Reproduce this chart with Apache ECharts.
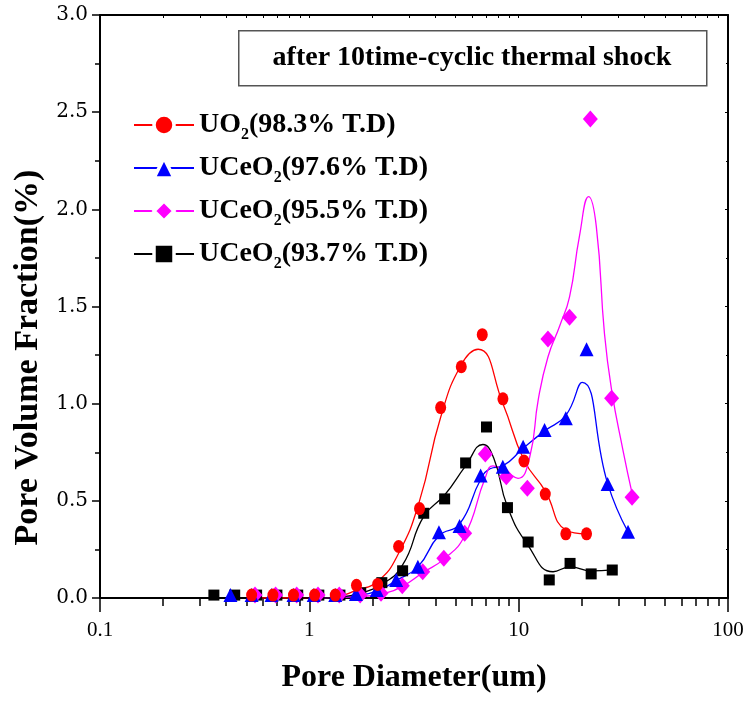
<!DOCTYPE html>
<html>
<head>
<meta charset="utf-8">
<script src="https://cdn.jsdelivr.net/npm/echarts@6/dist/echarts.min.js"></script>
<style>
  html, body { margin: 0; padding: 0; background: #fff; }
  #chart { width: 747px; height: 702px; }
</style>
</head>
<body>
<div id="chart"></div>
<script>
// measured points (pore diameter um / pore volume fraction %)
const uoX = [0.53, 0.67, 0.84, 1.06, 1.33, 1.68, 2.12, 2.67, 3.36, 4.24, 5.32, 6.70, 8.41, 10.6, 13.4, 16.8, 21.1]
const uoY = [0.015, 0.015, 0.015, 0.015, 0.015, 0.065, 0.07, 0.265, 0.46, 0.98, 1.19, 1.355, 1.025, 0.705, 0.535, 0.33, 0.33]

const ce976X = [0.42, 0.53, 0.66, 0.84, 1.05, 1.33, 1.67, 2.10, 2.60, 3.30, 4.16, 5.22, 6.58, 8.40, 10.5, 13.3, 16.8, 21.1, 26.6, 33.3]
const ce976Y = [0.015, 0.015, 0.015, 0.015, 0.015, 0.015, 0.02, 0.041, 0.093, 0.161, 0.338, 0.37, 0.63, 0.676, 0.778, 0.865, 0.925, 1.28, 0.587, 0.341]

const ce955X = [0.55, 0.69, 0.87, 1.10, 1.39, 1.75, 2.20, 2.78, 3.48, 4.39, 5.52, 6.93, 8.73, 11.0, 13.8, 17.5, 22.0, 27.8, 34.8]
const ce955Y = [0.015, 0.015, 0.015, 0.015, 0.015, 0.015, 0.024, 0.063, 0.135, 0.204, 0.333, 0.741, 0.624, 0.565, 1.333, 1.445, 2.465, 1.028, 0.518]

const ce937X = [0.35, 0.44, 0.56, 0.70, 0.88, 1.11, 1.40, 1.76, 2.22, 2.79, 3.52, 4.43, 5.58, 7.02, 8.84, 11.1, 14.0, 17.6, 22.2, 28.0]
const ce937Y = [0.015, 0.015, 0.015, 0.015, 0.015, 0.015, 0.015, 0.027, 0.079, 0.14, 0.436, 0.51, 0.695, 0.88, 0.465, 0.288, 0.093, 0.178, 0.124, 0.144]

// fitted curves
const uoFitX = [0.53, 1.06, 1.33, 1.68, 2.12, 2.67, 3.36, 4.24, 5.32, 6.4, 8.41, 10.6, 13.4, 16.8, 21.1]
const uoFitY = [0, 0, 0.005, 0.04, 0.085, 0.23, 0.5, 0.93, 1.2, 1.28, 1.0, 0.71, 0.55, 0.35, 0.33]

const ce976FitX = [1.05, 1.33, 1.67, 2.10, 2.60, 3.30, 4.16, 5.22, 6.58, 7.3, 8.40, 10.5, 13.3, 16.8, 20.1, 26.6, 33.3]
const ce976FitY = [0, 0.003, 0.012, 0.035, 0.09, 0.16, 0.32, 0.38, 0.61, 0.665, 0.68, 0.77, 0.86, 0.94, 1.11, 0.59, 0.34]

const ce955FitX = [1.10, 1.39, 1.75, 2.20, 2.78, 3.48, 4.39, 5.52, 6.93, 7.53, 8.73, 9.93, 11.3, 12.4, 13.8, 15.7, 17.5, 19.5, 21.6, 23.5, 25.7, 27.8, 31.5, 34.8]
const ce955FitY = [0, 0.003, 0.008, 0.02, 0.06, 0.13, 0.2, 0.32, 0.62, 0.68, 0.65, 0.616, 0.727, 1.02, 1.24, 1.4, 1.55, 1.86, 2.065, 1.91, 1.36, 1.07, 0.76, 0.54]

const ce937FitX = [0.9, 1.11, 1.40, 1.76, 2.22, 2.79, 3.52, 4.43, 5.58, 6.75, 7.6, 8.84, 11.1, 14.6, 17.6, 22.2, 28.0]
const ce937FitY = [0, 0, 0.005, 0.025, 0.07, 0.17, 0.42, 0.53, 0.68, 0.79, 0.72, 0.47, 0.27, 0.135, 0.16, 0.14, 0.145]

// axis ticks
const xMinorTicks = [0.2, 0.3, 0.4, 0.5, 0.6, 0.7, 0.8, 0.9, 2, 3, 4, 5, 6, 7, 8, 9, 20, 30, 40, 50, 60, 70, 80, 90]
const xAllTicks = [0.1, 0.2, 0.3, 0.4, 0.5, 0.6, 0.7, 0.8, 0.9, 1, 2, 3, 4, 5, 6, 7, 8, 9, 10, 20, 30, 40, 50, 60, 70, 80, 90, 100]

const serif = "Liberation Serif"

function pairs(xs, ys) {
  return xs.map(function (x, i) { return [x, ys[i]] })
}

const groups = [
  { name: "UO2(98.3% T.D)", color: "#ff0000", symbol: "circle", size: [11, 13], x: uoX, y: uoY, fx: uoFitX, fy: uoFitY, z: 6 },
  { name: "UCeO2(97.6% T.D)", color: "#0000ff", symbol: "triangle", size: [14, 14], x: ce976X, y: ce976Y, fx: ce976FitX, fy: ce976FitY, z: 5 },
  { name: "UCeO2(95.5% T.D)", color: "#ff00ff", symbol: "diamond", size: [15, 17], x: ce955X, y: ce955Y, fx: ce955FitX, fy: ce955FitY, z: 4 },
  { name: "UCeO2(93.7% T.D)", color: "#000000", symbol: "rect", size: [11, 11], x: ce937X, y: ce937Y, fx: ce937FitX, fy: ce937FitY, z: 3 }
]

const series = []
// curves first so the legend takes its icon from them
groups.forEach(function (g) {
  series.push({
    type: "line",
    name: g.name,
    data: pairs(g.fx, g.fy),
    smooth: 0.5,
    showSymbol: false,
    symbol: g.symbol,
    lineStyle: { color: g.color, width: 1.3 },
    itemStyle: { color: g.color },
    z: 2,
    silent: true
  })
})
groups.forEach(function (g) {
  series.push({
    type: "scatter",
    name: g.name,
    data: pairs(g.x, g.y),
    symbol: g.symbol,
    symbolSize: g.size,
    itemStyle: { color: g.color, opacity: 1 },
    z: g.z,
    silent: true
  })
})

const chart = echarts.init(document.getElementById("chart"))
chart.setOption({
  animation: false,
  backgroundColor: "#fff",
  grid: { left: 100, right: 19, top: 15, bottom: 104 },
  legend: {
    data: groups.map(function (g) { return g.name }),
    orient: "vertical",
    left: 128,
    top: 106,
    itemWidth: 60,
    itemHeight: 25,
    itemGap: 11,
    selectedMode: false,
    itemStyle: { borderColor: "#fff", borderWidth: 3.5 },
    formatter: function (n) {
      return "{m|" + n.replace("O2", "O}{s|2}{m|") + "}"
    },
    textStyle: {
      rich: {
        m: { fontFamily: serif, fontWeight: "bold", fontSize: 28, lineHeight: 36, color: "#000" },
        s: { fontFamily: serif, fontWeight: "bold", fontSize: 16, lineHeight: 16, verticalAlign: "bottom", color: "#000" }
      }
    }
  },
  graphic: [
    {
      type: "rect",
      left: 238,
      top: 30,
      shape: { width: 468, height: 55 },
      style: { fill: "#fff", stroke: "#555", lineWidth: 1.5 },
      z: 10
    },
    {
      type: "text",
      x: 472,
      y: 58,
      style: {
        text: "after 10time-cyclic thermal shock",
        font: "bold 28px \"Liberation Serif\"",
        fill: "#000",
        align: "center",
        verticalAlign: "middle"
      },
      z: 11
    }
  ],
  xAxis: [
    {
      type: "log",
      logBase: 10,
      min: 0.1,
      max: 100,
      position: "bottom",
      axisLine: { lineStyle: { color: "#000", width: 2 } },
      axisTick: { length: 14, lineStyle: { color: "#000", width: 1.5 } },
      axisLabel: { margin: 22, fontFamily: serif, fontSize: 21, color: "#000" },
      splitLine: { show: false },
      name: "Pore Diameter(um)",
      nameLocation: "middle",
      nameGap: 64,
      nameTextStyle: { fontFamily: serif, fontWeight: "bold", fontSize: 32, color: "#000" }
    },
    {
      type: "log",
      logBase: 10,
      min: 0.1,
      max: 100,
      position: "bottom",
      axisLine: { show: false },
      axisTick: { length: 8, customValues: xMinorTicks, lineStyle: { color: "#000", width: 1.5 } },
      axisLabel: { show: false },
      splitLine: { show: false }
    },
    {
      type: "log",
      logBase: 10,
      min: 0.1,
      max: 100,
      position: "top",
      axisLine: { lineStyle: { color: "#000", width: 2 } },
      axisTick: { inside: true, length: 3, customValues: xAllTicks, lineStyle: { color: "#000" } },
      axisLabel: { show: false },
      splitLine: { show: false }
    }
  ],
  yAxis: [
    {
      type: "value",
      min: 0,
      max: 3,
      interval: 0.5,
      position: "left",
      axisLine: { lineStyle: { color: "#000", width: 2 } },
      axisTick: { length: 8, lineStyle: { color: "#000", width: 1.5 } },
      minorTick: { show: true, splitNumber: 2, length: 5, lineStyle: { color: "#000", width: 1.5 } },
      axisLabel: {
        margin: 12,
        fontFamily: "DejaVu Serif",
        fontSize: 20,
        color: "#000",
        formatter: function (v) { return v.toFixed(1) }
      },
      splitLine: { show: false },
      name: "Pore Volume Fraction(%)",
      nameLocation: "middle",
      nameRotate: 90,
      nameGap: 55,
      nameTextStyle: { fontFamily: serif, fontWeight: "bold", fontSize: 34, color: "#000", padding: [0, 102, 0, 0] }
    },
    {
      type: "value",
      min: 0,
      max: 3,
      interval: 0.5,
      position: "right",
      axisLine: { lineStyle: { color: "#000", width: 2 } },
      axisTick: { inside: true, length: 3, lineStyle: { color: "#000" } },
      minorTick: { show: true, splitNumber: 2, length: 2, lineStyle: { color: "#000" } },
      axisLabel: { show: false },
      splitLine: { show: false }
    }
  ],
  series: series
})

window.addEventListener("resize", function () {
  chart.resize()
})
</script>
</body>
</html>
